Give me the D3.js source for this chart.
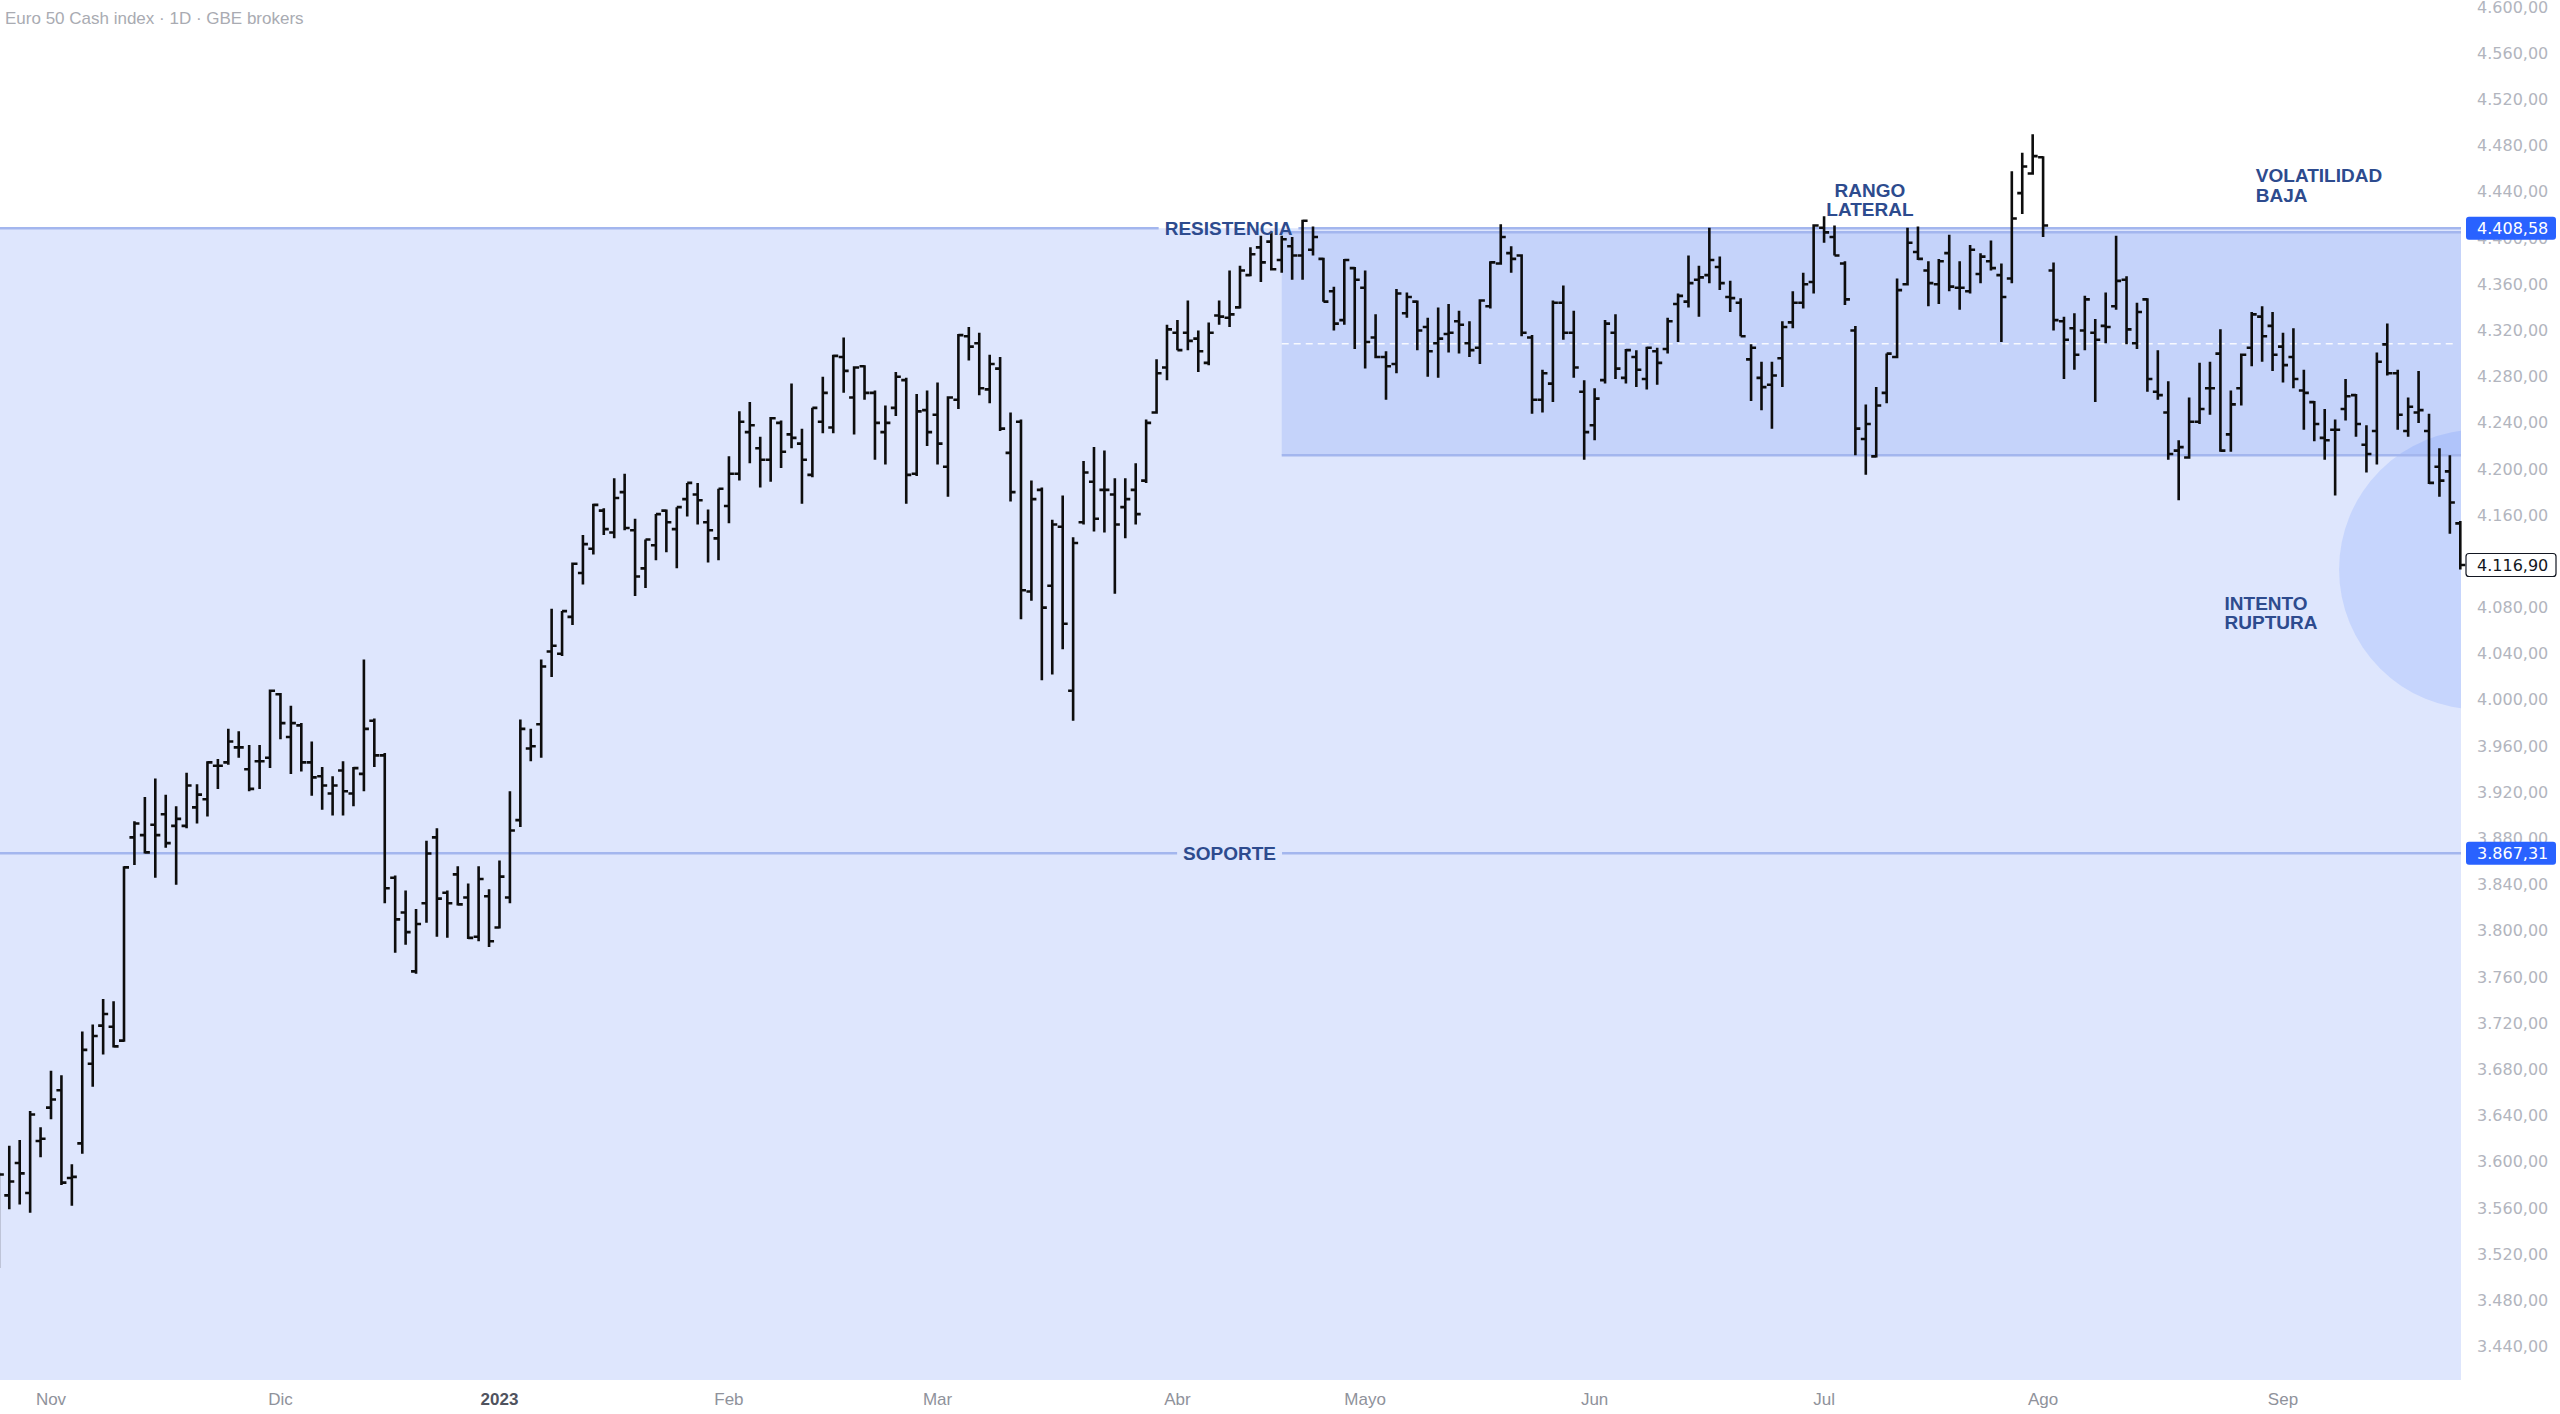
<!DOCTYPE html>
<html>
<head>
<meta charset="utf-8">
<script src="https://cdn.jsdelivr.net/npm/d3@7"></script>
<style>
  html, body { margin: 0; padding: 0; background: #fff; }
  svg { display: block; }
</style>
</head>
<body>
<script>
// daily OHLC bars, Euro 50 cash index (bar index 0 = late Oct 2022, last = 26 Sep 2023)
const opens = [
  3530, 3571, 3599, 3573, 3618, 3647, 3662, 3586, 3616, 3685,
  3718, 3717, 3705, 3881, 3883, 3892, 3901, 3891, 3891, 3907,
  3914, 3943, 3946, 3959, 3940, 3947, 3950, 4005, 3968, 3978,
  3946, 3934, 3919, 3939, 3919, 3936, 3982, 3952, 3846, 3816,
  3765, 3824, 3881, 3833, 3849, 3829, 3795, 3830, 3803, 3829,
  3896, 3958, 3979, 4042, 4040, 4072, 4110, 4131, 4164, 4145,
  4180, 4147, 4114, 4134, 4164, 4148, 4174, 4178, 4154, 4140,
  4168, 4196, 4232, 4218, 4208, 4240, 4230, 4222, 4195, 4241,
  4236, 4297, 4262, 4289, 4266, 4232, 4253, 4277, 4196, 4251,
  4247, 4202, 4260, 4315, 4309, 4269, 4287, 4214, 4241, 4094,
  4182, 4099, 4150, 4008, 4154, 4189, 4182, 4178, 4167, 4182,
  4190, 4249, 4288, 4318, 4318, 4313, 4292, 4333, 4331, 4340,
  4368, 4392, 4397, 4381, 4393, 4385, 4390, 4382, 4354, 4329,
  4374, 4357, 4314, 4297, 4291, 4335, 4345, 4323, 4309, 4317,
  4328, 4309, 4305, 4341, 4378, 4387, 4385, 4314, 4260, 4274,
  4344, 4318, 4267, 4238, 4277, 4318, 4279, 4297, 4278, 4302,
  4304, 4343, 4345, 4364, 4368, 4375, 4349, 4344, 4295, 4279,
  4273, 4296, 4327, 4344, 4362, 4409, 4401, 4378, 4320, 4226,
  4211, 4266, 4297, 4360, 4388, 4372, 4360, 4387, 4357, 4354,
  4369, 4380, 4368, 4365, 4439, 4456, 4470, 4372, 4328, 4322,
  4320, 4318, 4324, 4341, 4364, 4309, 4347, 4267, 4249, 4216,
  4210, 4241, 4270, 4300, 4230, 4270, 4305, 4332, 4324, 4306,
  4297, 4268, 4258, 4227, 4234, 4252, 4264, 4221, 4233, 4308,
  4283, 4233, 4249, 4233, 4202, 4198, 4153
];
const highs = [
  3591, 3614, 3619, 3644, 3630, 3679, 3675, 3598, 3713, 3719,
  3741, 3739, 3856, 3895, 3916, 3932, 3918, 3908, 3937, 3927,
  3947, 3949, 3975, 3973, 3961, 3961, 4009, 4006, 3995, 3980,
  3964, 3942, 3934, 3947, 3942, 4035, 3984, 3954, 3848, 3835,
  3819, 3878, 3889, 3835, 3856, 3841, 3856, 3836, 3861, 3921,
  3983, 3975, 4035, 4079, 4077, 4119, 4143, 4170, 4166, 4192,
  4196, 4157, 4139, 4161, 4165, 4167, 4188, 4188, 4165, 4183,
  4211, 4250, 4258, 4228, 4245, 4242, 4274, 4235, 4253, 4280,
  4299, 4314, 4289, 4290, 4268, 4255, 4284, 4279, 4265, 4268,
  4275, 4263, 4317, 4323, 4318, 4299, 4297, 4249, 4243, 4190,
  4184, 4156, 4177, 4141, 4207, 4219, 4216, 4192, 4192, 4205,
  4243, 4295, 4325, 4329, 4346, 4320, 4327, 4346, 4372, 4376,
  4392, 4402, 4405, 4402, 4401, 4416, 4410, 4383, 4358, 4382,
  4375, 4372, 4334, 4302, 4356, 4353, 4346, 4331, 4340, 4343,
  4337, 4328, 4347, 4380, 4412, 4393, 4386, 4316, 4286, 4346,
  4359, 4337, 4277, 4270, 4329, 4334, 4304, 4303, 4306, 4305,
  4331, 4352, 4385, 4376, 4409, 4384, 4363, 4348, 4308, 4293,
  4293, 4328, 4354, 4370, 4412, 4419, 4411, 4380, 4324, 4256,
  4271, 4300, 4365, 4409, 4410, 4380, 4382, 4403, 4380, 4394,
  4387, 4398, 4378, 4458, 4474, 4490, 4471, 4379, 4332, 4335,
  4350, 4330, 4353, 4402, 4367, 4344, 4348, 4303, 4276, 4225,
  4262, 4292, 4293, 4321, 4268, 4300, 4336, 4341, 4336, 4318,
  4322, 4286, 4259, 4252, 4243, 4278, 4265, 4238, 4301, 4326,
  4286, 4262, 4285, 4248, 4218, 4212, 4155
];
const lows = [
  3508, 3559, 3563, 3556, 3604, 3637, 3580, 3562, 3607, 3665,
  3693, 3699, 3704, 3857, 3867, 3846, 3872, 3840, 3889, 3893,
  3899, 3923, 3944, 3950, 3921, 3923, 3941, 3966, 3936, 3938,
  3917, 3905, 3900, 3900, 3908, 3921, 3942, 3824, 3781, 3788,
  3763, 3807, 3795, 3794, 3822, 3793, 3791, 3786, 3802, 3824,
  3890, 3947, 3950, 4020, 4038, 4065, 4100, 4126, 4143, 4140,
  4147, 4090, 4097, 4121, 4128, 4114, 4159, 4152, 4119, 4121,
  4153, 4190, 4205, 4184, 4189, 4201, 4218, 4170, 4193, 4231,
  4231, 4266, 4230, 4260, 4208, 4204, 4246, 4170, 4194, 4220,
  4204, 4176, 4252, 4294, 4264, 4257, 4233, 4172, 4070, 4086,
  4017, 4022, 4044, 3982, 4152, 4146, 4145, 4092, 4140, 4152,
  4188, 4248, 4277, 4303, 4303, 4284, 4290, 4325, 4323, 4339,
  4367, 4362, 4372, 4370, 4364, 4364, 4385, 4345, 4320, 4325,
  4304, 4287, 4296, 4260, 4283, 4331, 4303, 4280, 4279, 4301,
  4300, 4297, 4291, 4339, 4377, 4370, 4315, 4248, 4249, 4258,
  4312, 4279, 4208, 4225, 4274, 4278, 4274, 4271, 4269, 4273,
  4300, 4310, 4340, 4332, 4361, 4355, 4336, 4315, 4259, 4251,
  4235, 4271, 4322, 4339, 4352, 4396, 4385, 4342, 4212, 4195,
  4210, 4257, 4296, 4359, 4381, 4341, 4343, 4354, 4338, 4352,
  4361, 4372, 4310, 4361, 4421, 4455, 4401, 4320, 4278, 4286,
  4303, 4258, 4309, 4338, 4308, 4304, 4267, 4260, 4208, 4173,
  4209, 4239, 4247, 4215, 4215, 4255, 4289, 4293, 4285, 4275,
  4270, 4234, 4224, 4208, 4177, 4242, 4228, 4197, 4204, 4281,
  4234, 4228, 4240, 4187, 4176, 4144, 4113
];
const closes = [
  3589, 3583, 3590, 3641, 3620, 3654, 3582, 3587, 3697, 3709,
  3728, 3700, 3855, 3893, 3868, 3883, 3876, 3897, 3926, 3918,
  3946, 3943, 3964, 3959, 3923, 3947, 4008, 3980, 3980, 3946,
  3933, 3926, 3926, 3921, 3941, 3975, 3952, 3837, 3810, 3799,
  3806, 3867, 3828, 3824, 3823, 3794, 3845, 3791, 3847, 3887,
  3975, 3960, 4029, 4047, 4077, 4118, 4135, 4169, 4148, 4175,
  4149, 4107, 4139, 4161, 4154, 4167, 4188, 4173, 4147, 4183,
  4196, 4241, 4238, 4208, 4244, 4215, 4227, 4208, 4253, 4266,
  4298, 4285, 4288, 4266, 4240, 4240, 4280, 4195, 4250, 4232,
  4222, 4262, 4316, 4306, 4270, 4291, 4235, 4180, 4095, 4174,
  4080, 4152, 4066, 4136, 4197, 4157, 4182, 4152, 4174, 4161,
  4240, 4283, 4321, 4303, 4311, 4302, 4318, 4332, 4334, 4372,
  4386, 4379, 4373, 4399, 4385, 4415, 4401, 4345, 4326, 4381,
  4364, 4310, 4297, 4289, 4352, 4349, 4320, 4302, 4313, 4318,
  4325, 4303, 4346, 4379, 4401, 4382, 4318, 4260, 4283, 4344,
  4318, 4288, 4232, 4261, 4326, 4287, 4303, 4286, 4305, 4292,
  4328, 4350, 4361, 4366, 4381, 4361, 4348, 4315, 4305, 4271,
  4281, 4323, 4344, 4360, 4411, 4405, 4385, 4347, 4235, 4239,
  4255, 4300, 4355, 4396, 4382, 4361, 4380, 4358, 4357, 4390,
  4384, 4374, 4349, 4417, 4462, 4471, 4411, 4329, 4312, 4299,
  4347, 4312, 4323, 4363, 4321, 4336, 4278, 4264, 4213, 4219,
  4241, 4252, 4270, 4216, 4256, 4299, 4334, 4315, 4299, 4290,
  4278, 4266, 4239, 4225, 4234, 4263, 4239, 4213, 4293, 4283,
  4247, 4254, 4251, 4188, 4190, 4171, 4116.9
];

// time axis: label and the bar index of the first session of that month
const monthLabels = ["Nov", "Dic", "2023", "Feb", "Mar", "Abr", "Mayo", "Jun", "Jul", "Ago", "Sep"];
const monthBars = [5, 27, 48, 70, 90, 113, 131, 153, 175, 196, 219];

// price axis
const priceTicks = [
  3440, 3480, 3520, 3560, 3600, 3640, 3680, 3720, 3760, 3800,
  3840, 3880, 3920, 3960, 4000, 4040, 4080, 4120, 4160, 4200,
  4240, 4280, 4320, 4360, 4400, 4440, 4480, 4520, 4560, 4600
];

// drawn levels
const resistance = 4408.58;
const support = 3867.31;
const rangeTop = 4405;
const rangeBottom = 4212;
const rangeStartBar = 123;

const title = "Euro 50 Cash index · 1D · GBE brokers";

// ---------------------------------------------------------------
const width = 2560;
const height = 1414;
const plotRight = 2461;
const plotBottom = 1380;
const nBars = closes.length;

const x = d3.scaleLinear().domain([0, nBars - 1]).range([-1.15, 2460.3]);
const y = d3.scaleLinear().domain([3440, 4600]).range([1346.6, 7.2]);

const locale = d3.formatLocale({ decimal: ",", thousands: ".", grouping: [3], currency: ["", ""] });
const fmt = locale.format(",.2f");

const svg = d3.select("body").append("svg")
  .attr("width", width)
  .attr("height", height)
  .attr("viewBox", [0, 0, width, height]);

svg.append("defs").append("clipPath").attr("id", "plot-clip")
  .append("rect").attr("x", 0).attr("y", 0).attr("width", plotRight).attr("height", plotBottom);

const gBack = svg.append("g");
const gLines = svg.append("g");
const gBars = svg.append("g");
const gText = svg.append("g");
const gAxis = svg.append("g");

const lineColor = "#a3b6ee";
const noteColor = "#2d4b8e";
const noteFont = "'Liberation Sans', Arial, sans-serif";

// big pale zone below the resistance
gBack.append("rect")
  .attr("x", 0).attr("y", y(resistance))
  .attr("width", plotRight).attr("height", plotBottom - y(resistance))
  .attr("fill", "#dee6fd");

// lateral range box
gBack.append("rect")
  .attr("x", x(rangeStartBar)).attr("y", y(rangeTop))
  .attr("width", plotRight - x(rangeStartBar)).attr("height", y(rangeBottom) - y(rangeTop))
  .attr("fill", "#c5d3fa");

// breakout circle, clipped by the price pane
gBack.append("circle")
  .attr("clip-path", "url(#plot-clip)")
  .attr("cx", x(237.8)).attr("cy", y(4113)).attr("r", 140)
  .attr("fill", "#2962ff").attr("fill-opacity", 0.13);

// range middle, dashed
gLines.append("line")
  .attr("x1", x(rangeStartBar)).attr("x2", plotRight - 6)
  .attr("y1", y((rangeTop + rangeBottom) / 2)).attr("y2", y((rangeTop + rangeBottom) / 2))
  .attr("stroke", "#ffffff").attr("stroke-opacity", 0.85)
  .attr("stroke-width", 1.5).attr("stroke-dasharray", "7 5");

[rangeTop, rangeBottom].forEach(v => {
  gLines.append("line")
    .attr("x1", x(rangeStartBar)).attr("x2", plotRight)
    .attr("y1", y(v)).attr("y2", y(v))
    .attr("stroke", lineColor).attr("stroke-width", 2.5);
});

// horizontal level with its name in the middle
function levelLine(value, label, centerBar) {
  const yy = y(value);
  const cx = x(centerBar);
  const t = gText.append("text")
    .attr("x", cx).attr("y", yy)
    .attr("text-anchor", "middle")
    .attr("dominant-baseline", "central")
    .attr("font-family", noteFont)
    .attr("font-weight", "bold")
    .attr("font-size", 19)
    .attr("fill", noteColor)
    .text(label);
  const w = t.node().getComputedTextLength();
  const segs = [[0, cx - w / 2 - 6], [cx + w / 2 + 6, plotRight]];
  gLines.selectAll(null)
    .data(segs)
    .join("line")
    .attr("x1", d => d[0]).attr("x2", d => d[1])
    .attr("y1", yy).attr("y2", yy)
    .attr("stroke", lineColor).attr("stroke-width", 2.5);
}
levelLine(resistance, "RESISTENCIA", 117.9);
levelLine(support, "SOPORTE", 118);

// OHLC bars
const barIdx = d3.range(nBars);
const tick = 5;
gBars.selectAll("path")
  .data(barIdx)
  .join("path")
  .attr("d", i => {
    const xx = x(i);
    return `M${xx},${y(highs[i])}V${y(lows[i])}` +
      `M${xx - tick},${y(opens[i])}H${xx}` +
      `M${xx},${y(closes[i])}H${xx + tick}`;
  })
  .attr("fill", "none")
  .attr("stroke", "#0d0d0d")
  .attr("stroke-width", 2.6);

// free annotations
const notes = [
  { lines: ["RANGO", "LATERAL"], bar: 179.4, price: 4436, anchor: "middle" },
  { lines: ["VOLATILIDAD", "BAJA"], bar: 216.4, price: 4448.6, anchor: "start" },
  { lines: ["INTENTO", "RUPTURA"], bar: 213.4, price: 4078, anchor: "start" }
];
notes.forEach(n => {
  const t = gText.append("text")
    .attr("x", x(n.bar)).attr("y", y(n.price))
    .attr("text-anchor", n.anchor)
    .attr("font-family", noteFont)
    .attr("font-weight", "bold")
    .attr("font-size", 19)
    .attr("fill", noteColor);
  t.selectAll("tspan")
    .data(n.lines)
    .join("tspan")
    .attr("x", x(n.bar))
    .attr("dy", (d, i) => i ? 19.5 : 0)
    .text(d => d);
});

// price scale
const axisFont = "'DejaVu Sans', sans-serif";
gAxis.selectAll("text.price")
  .data(priceTicks)
  .join("text")
  .attr("class", "price")
  .attr("x", 2477).attr("y", d => y(d))
  .attr("dominant-baseline", "central")
  .attr("font-family", axisFont)
  .attr("font-size", 16)
  .attr("fill", "#b2b5be")
  .text(d => fmt(d));

// price badges
const badges = [
  { value: resistance, fill: "#2962ff", stroke: "none", color: "#ffffff" },
  { value: support, fill: "#2962ff", stroke: "none", color: "#ffffff" },
  { value: closes[nBars - 1], fill: "#ffffff", stroke: "#131722", color: "#131722" }
];
const gBadge = gAxis.selectAll("g.badge")
  .data(badges)
  .join("g")
  .attr("class", "badge");
gBadge.append("rect")
  .attr("x", 2466).attr("y", d => y(d.value) - 11.5)
  .attr("width", 90).attr("height", 23).attr("rx", 3)
  .attr("fill", d => d.fill).attr("stroke", d => d.stroke).attr("stroke-width", 1.2);
gBadge.append("text")
  .attr("x", 2477).attr("y", d => y(d.value))
  .attr("dominant-baseline", "central")
  .attr("font-family", axisFont)
  .attr("font-size", 16)
  .attr("fill", d => d.color)
  .text(d => fmt(d.value));

// time scale
gAxis.selectAll("text.month")
  .data(monthLabels)
  .join("text")
  .attr("class", "month")
  .attr("x", (d, i) => x(monthBars[i]))
  .attr("y", 1399)
  .attr("text-anchor", "middle")
  .attr("dominant-baseline", "central")
  .attr("font-family", "'Liberation Sans', Arial, sans-serif")
  .attr("font-size", 17)
  .attr("font-weight", d => /^\d+$/.test(d) ? "bold" : "normal")
  .attr("fill", d => /^\d+$/.test(d) ? "#50535e" : "#8f929b")
  .text(d => d);

// header
svg.append("text")
  .attr("x", 5).attr("y", 18)
  .attr("dominant-baseline", "central")
  .attr("font-family", "'Liberation Sans', Arial, sans-serif")
  .attr("font-size", 17)
  .attr("fill", "#a9abb2")
  .text(title);
</script>
</body>
</html>
